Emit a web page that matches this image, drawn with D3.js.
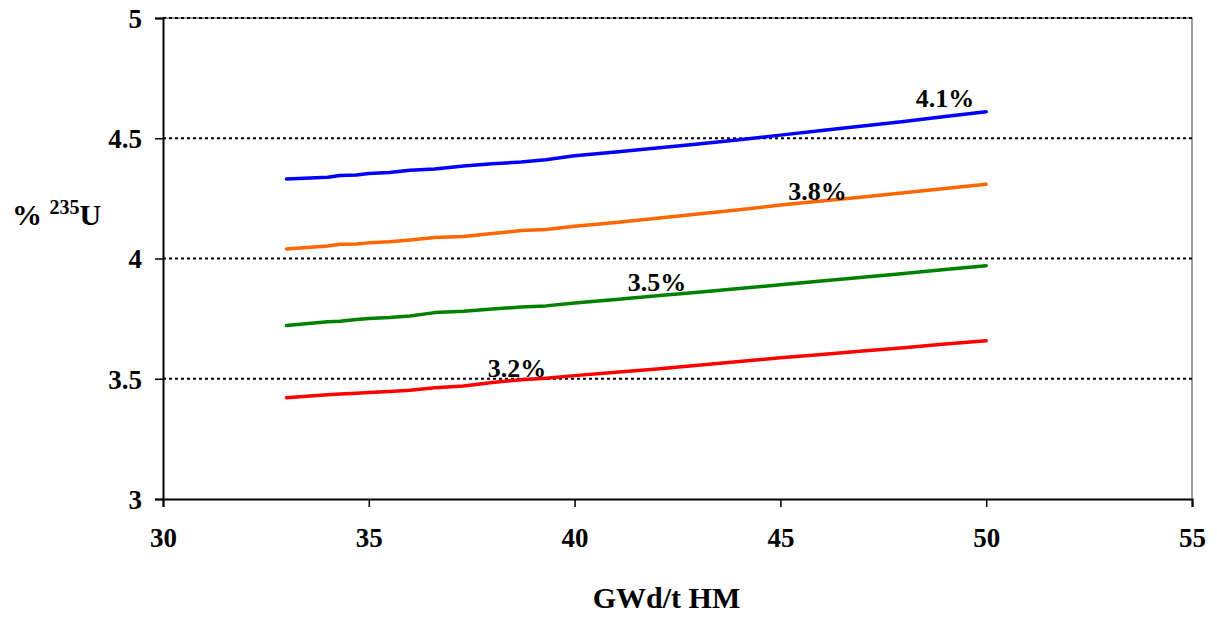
<!DOCTYPE html>
<html>
<head>
<meta charset="utf-8">
<script src="https://cdn.jsdelivr.net/npm/d3@7"></script>
<style>
    body { margin: 0; background: #fff; }
    svg text { font-family: "Liberation Serif", "Times New Roman", serif; font-weight: bold; fill: #000; }
</style>
</head>
<body>
<svg id="chart" width="1217" height="617"></svg>
<script>
// burnup (GWd/t HM)
const burnup = [33, 34, 34.3, 34.7, 35, 35.5, 36, 36.6, 37.3, 38, 38.7, 39.3, 40, 41, 42, 43, 44, 45, 46, 47, 48, 49, 50];

// required % U-235, one array per curve
const enr41 = [4.331, 4.338, 4.345, 4.347, 4.353, 4.358, 4.367, 4.372, 4.385, 4.394, 4.401, 4.411, 4.427, 4.443, 4.459, 4.476, 4.494, 4.513, 4.532, 4.551, 4.570, 4.590, 4.610];
const enr38 = [4.040, 4.052, 4.059, 4.060, 4.065, 4.070, 4.077, 4.087, 4.091, 4.104, 4.116, 4.121, 4.134, 4.150, 4.167, 4.185, 4.203, 4.222, 4.239, 4.256, 4.273, 4.291, 4.309];
const enr35 = [3.721, 3.737, 3.739, 3.746, 3.751, 3.755, 3.761, 3.775, 3.781, 3.790, 3.798, 3.803, 3.815, 3.830, 3.845, 3.860, 3.875, 3.891, 3.906, 3.922, 3.938, 3.954, 3.970];
const enr32 = [3.421, 3.433, 3.437, 3.440, 3.443, 3.447, 3.452, 3.463, 3.470, 3.484, 3.496, 3.502, 3.513, 3.527, 3.541, 3.556, 3.572, 3.587, 3.601, 3.615, 3.629, 3.644, 3.658];

const seriesNames = ['4.1%', '3.8%', '3.5%', '3.2%'];
const seriesColors = ['#0000ff', '#ff6600', '#008000', '#ff0000'];
// label anchors in data units (burnup, % U-235)
const labelX = [49.0, 45.9, 42.0, 38.6];
const labelY = [4.630, 4.243, 3.866, 3.509];

const xTicks = [30, 35, 40, 45, 50, 55];
const yTicks = [3, 3.5, 4, 4.5, 5];

const margin = {top: 18, right: 25, bottom: 118, left: 163};
const svg = d3.select('#chart');
const width = +svg.attr('width') - margin.left - margin.right;
const height = +svg.attr('height') - margin.top - margin.bottom;

const x = d3.scaleLinear().domain([30, 55]).range([0, width]);
const y = d3.scaleLinear().domain([3, 5]).range([height, 0]);

const g = svg.append('g').attr('transform', `translate(${margin.left},${margin.top})`);

// plot frame (grey, top and right)
g.append('path')
    .attr('d', `M0,0H${width}V${height}`)
    .attr('fill', 'none')
    .attr('stroke', '#808080')
    .attr('stroke-width', 1.5);

// dotted gridlines
g.selectAll('.grid')
    .data(yTicks.filter(d => d > 3))
    .enter().append('line')
    .attr('class', 'grid')
    .attr('x1', 0)
    .attr('x2', width)
    .attr('y1', d => y(d))
    .attr('y2', d => y(d))
    .attr('stroke', '#000')
    .attr('stroke-width', 2)
    .attr('stroke-dasharray', '3,3');

const yAxis = g.append('g')
    .call(d3.axisLeft(y).tickValues(yTicks).tickSize(8).tickPadding(13).tickFormat(d3.format('')));
yAxis.selectAll('text').style('font-size', '27px').attr('dy', '0.35em');

const xAxis = g.append('g')
    .attr('transform', `translate(0,${height})`)
    .call(d3.axisBottom(x).tickValues(xTicks).tickSize(8).tickPadding(21).tickFormat(d3.format('')));
xAxis.selectAll('text').style('font-size', '27px');

[yAxis, xAxis].forEach(a => {
    a.select('.domain').attr('stroke', '#000').attr('stroke-width', 2);
    a.selectAll('.tick line').attr('stroke', '#000').attr('stroke-width', 1.5);
});

// curves
const line = d3.line()
    .x((d, i) => x(burnup[i]))
    .y(d => y(d));

[enr41, enr38, enr35, enr32].forEach((values, i) => {
    g.append('path')
        .datum(values)
        .attr('d', line)
        .attr('fill', 'none')
        .attr('stroke', seriesColors[i])
        .attr('stroke-width', 3.5)
        .attr('stroke-linecap', 'round')
        .attr('stroke-linejoin', 'round');
});

// curve labels
g.selectAll('.curve-label')
    .data(seriesNames)
    .enter().append('text')
    .attr('class', 'curve-label')
    .attr('x', (d, i) => x(labelX[i]))
    .attr('y', (d, i) => y(labelY[i]))
    .attr('text-anchor', 'middle')
    .style('font-size', '26px')
    .text(d => d);

// axis titles
svg.append('text')
    .attr('x', margin.left + width / 2 - 11)
    .attr('y', 608)
    .attr('text-anchor', 'middle')
    .style('font-size', '30px')
    .text('GWd/t HM');

const yTitle = svg.append('text')
    .attr('x', 12)
    .attr('y', 225)
    .style('font-size', '30px');
yTitle.append('tspan').text('% ');
yTitle.append('tspan').attr('dy', -11).style('font-size', '20px').text('235');
yTitle.append('tspan').attr('dy', 11).text('U');
</script>
</body>
</html>
